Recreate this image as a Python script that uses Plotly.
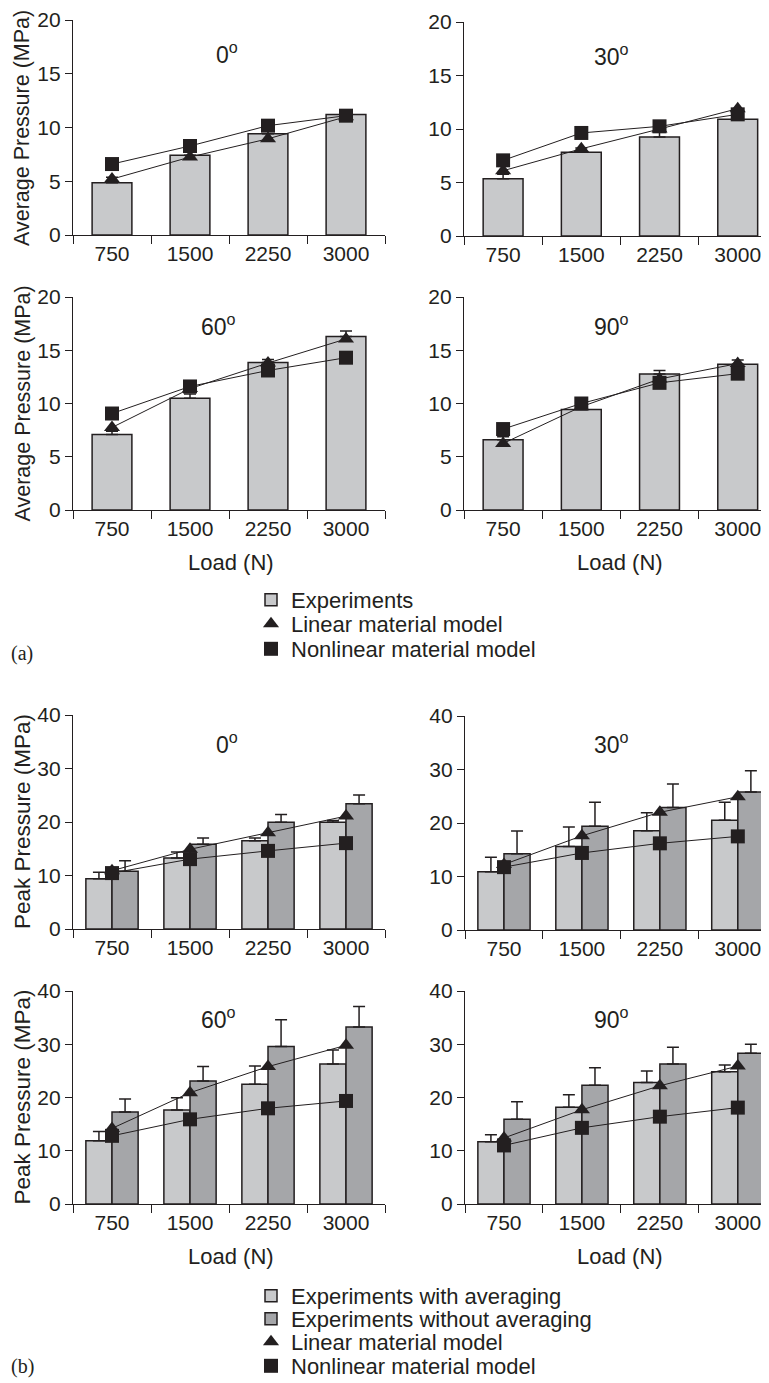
import plotly.graph_objects as go

# ---------------- data ----------------
loads = ["750", "1500", "2250", "3000"]

# (a) average pressure (MPa)
avg_exp_0 = [4.87, 7.41, 9.43, 11.22]
avg_err_0 = [0.5, 0.3, 0.3, 0.4]
avg_lin_0 = [5.2, 7.25, 8.95, 11.0]
avg_non_0 = [6.6, 8.28, 10.17, 11.1]

avg_exp_30 = [5.36, 7.82, 9.25, 10.9]
avg_err_30 = [0.4, 0.4, 0.6, 0.4]
avg_lin_30 = [6.1, 8.15, 10.0, 11.9]
avg_non_30 = [7.07, 9.63, 10.25, 11.37]

avg_exp_60 = [7.1, 10.5, 13.84, 16.3]
avg_err_60 = [0.3, 0.4, 0.3, 0.5]
avg_lin_60 = [7.75, 11.4, 13.8, 16.06]
avg_non_60 = [9.06, 11.6, 13.1, 14.3]

avg_exp_90 = [6.6, 9.44, 12.78, 13.69]
avg_err_90 = [0.27, 0.2, 0.32, 0.4]
avg_lin_90 = [6.25, 9.7, 12.3, 13.75]
avg_non_90 = [7.6, 10.0, 11.94, 12.8]

# (b) peak pressure (MPa)
pk_avg_0 = [9.4, 13.25, 16.5, 19.97]
pk_avg_err_0 = [1.2, 1.15, 0.5, 0.3]
pk_raw_0 = [10.8, 15.86, 19.97, 23.4]
pk_raw_err_0 = [1.95, 1.14, 1.43, 1.67]
pk_lin_0 = [10.9, 14.9, 18.0, 21.1]
pk_non_0 = [10.45, 13.06, 14.6, 16.05]

pk_avg_30 = [10.9, 15.6, 18.56, 20.5]
pk_avg_err_30 = [2.7, 3.65, 3.34, 3.4]
pk_raw_30 = [14.25, 19.4, 22.9, 25.8]
pk_raw_err_30 = [4.25, 4.5, 4.4, 3.95]
pk_lin_30 = [12.25, 17.6, 22.0, 24.9]
pk_non_30 = [11.75, 14.4, 16.2, 17.5]

pk_avg_60 = [11.86, 17.66, 22.5, 26.3]
pk_avg_err_60 = [1.74, 2.31, 3.4, 2.6]
pk_raw_60 = [17.3, 23.1, 29.6, 33.26]
pk_raw_err_60 = [2.4, 2.7, 5.0, 3.84]
pk_lin_60 = [14.2, 20.9, 25.8, 29.8]
pk_non_60 = [12.8, 15.9, 17.97, 19.35]

pk_avg_90 = [11.67, 18.16, 22.8, 24.84]
pk_avg_err_90 = [1.33, 2.34, 2.2, 1.26]
pk_raw_90 = [15.9, 22.3, 26.3, 28.3]
pk_raw_err_90 = [3.3, 3.3, 3.15, 1.7]
pk_lin_90 = [12.4, 17.7, 22.2, 25.9]
pk_non_90 = [11.0, 14.3, 16.4, 18.1]

angle_labels = ["0", "30", "60", "90"]

# ---------------- style ----------------
OFF = 8                      # page body margin of the browser
W, H = 769 - OFF, 1383 - OFF
FONT = "Liberation Sans, Arial, Helvetica, sans-serif"
SERIF = "Liberation Serif, Times New Roman, serif"
INK = "#231f20"
LIGHT = "#c8c9cb"
DARK = "#a5a6a9"
FS = 21


def fx(px):
    return (px - OFF) / W


def fy(py):
    return 1 - (py - OFF) / H


# panel pixel boxes (page pixels): (x0, x1, ytop, ybottom, xmax_range, ymax)
panels = [
    (73, 385, 20, 235, 3.5, 20),
    (464, 769, 22, 236, 3.4, 20),
    (73, 385, 297, 510, 3.5, 20),
    (464, 769, 297, 510, 3.4, 20),
    (73, 385, 715, 929, 3.5, 40),
    (465, 769, 716, 930, 3.4, 40),
    (73, 385, 991, 1204, 3.5, 40),
    (465, 769, 991, 1204, 3.4, 40),
]

fig = go.Figure()
layout = {}


def axn(i):
    return ("x" if i == 1 else f"x{i}", "y" if i == 1 else f"y{i}")


for i, (x0, x1, yt, yb, xr, ym) in enumerate(panels, start=1):
    xk = "xaxis" if i == 1 else f"xaxis{i}"
    yk = "yaxis" if i == 1 else f"yaxis{i}"
    _, ya = axn(i)
    layout[xk] = dict(
        domain=[fx(x0), min(1.0, fx(x1))], anchor=ya, type="category",
        categoryorder="array", categoryarray=loads, automargin=False,
        range=[-0.5, xr], showline=True, linecolor=INK, linewidth=1.2,
        ticks="outside", tickson="boundaries", ticklen=8, tickwidth=1,
        tickcolor=INK, showgrid=False, zeroline=False,
        tickfont=dict(family=FONT, size=FS, color=INK), fixedrange=True,
    )
    step = 5 if ym == 20 else 10
    layout[yk] = dict(
        domain=[fy(yb), fy(yt)], anchor=axn(i)[0], range=[0, ym],
        automargin=False,
        tickvals=list(range(0, ym + 1, step)), showline=True, linecolor=INK,
        linewidth=1.2, ticks="outside", ticklen=7, tickwidth=1, tickcolor=INK,
        showgrid=False, zeroline=False,
        tickfont=dict(family=FONT, size=FS, color=INK), fixedrange=True,
    )

avg_sets = [
    (avg_exp_0, avg_err_0, avg_lin_0, avg_non_0),
    (avg_exp_30, avg_err_30, avg_lin_30, avg_non_30),
    (avg_exp_60, avg_err_60, avg_lin_60, avg_non_60),
    (avg_exp_90, avg_err_90, avg_lin_90, avg_non_90),
]
pk_sets = [
    (pk_avg_0, pk_avg_err_0, pk_raw_0, pk_raw_err_0, pk_lin_0, pk_non_0),
    (pk_avg_30, pk_avg_err_30, pk_raw_30, pk_raw_err_30, pk_lin_30, pk_non_30),
    (pk_avg_60, pk_avg_err_60, pk_raw_60, pk_raw_err_60, pk_lin_60, pk_non_60),
    (pk_avg_90, pk_avg_err_90, pk_raw_90, pk_raw_err_90, pk_lin_90, pk_non_90),
]


def err(arr):
    return dict(type="data", array=arr, arrayminus=[0] * len(arr),
                symmetric=False, color=INK, thickness=1.5, width=6)


def model_traces(xa, ya, lin, non):
    fig.add_trace(go.Scatter(
        x=loads, y=lin, mode="lines+markers", xaxis=xa, yaxis=ya,
        line=dict(color=INK, width=1), cliponaxis=False,
        marker=dict(symbol="triangle-up", size=14, color=INK, line=dict(width=0)),
        showlegend=False, hoverinfo="skip"))
    fig.add_trace(go.Scatter(
        x=loads, y=non, mode="lines+markers", xaxis=xa, yaxis=ya,
        line=dict(color=INK, width=1), cliponaxis=False,
        marker=dict(symbol="square", size=14, color=INK, line=dict(width=0)),
        showlegend=False, hoverinfo="skip"))


for k, (exp, e, lin, non) in enumerate(avg_sets):
    xa, ya = axn(k + 1)
    fig.add_trace(go.Bar(
        x=loads, y=exp, xaxis=xa, yaxis=ya, width=0.51,
        marker=dict(color=LIGHT, line=dict(color=INK, width=1.5)),
        error_y=err(e), showlegend=False, hoverinfo="skip"))
    model_traces(xa, ya, lin, non)

for k, (a, ae, r, re_, lin, non) in enumerate(pk_sets):
    xa, ya = axn(k + 5)
    fig.add_trace(go.Bar(
        x=loads, y=a, xaxis=xa, yaxis=ya, width=0.335, offset=-0.335,
        marker=dict(color=LIGHT, line=dict(color=INK, width=1.5)),
        error_y=err(ae), showlegend=False, hoverinfo="skip"))
    fig.add_trace(go.Bar(
        x=loads, y=r, xaxis=xa, yaxis=ya, width=0.335, offset=0,
        marker=dict(color=DARK, line=dict(color=INK, width=1.5)),
        error_y=err(re_), showlegend=False, hoverinfo="skip"))
    model_traces(xa, ya, lin, non)

# ---------------- legends (one item per legend for exact spacing) -----
legend_items = [
    ("Experiments", "bar", LIGHT, 600),
    ("Linear material model", "triangle-up", INK, 624),
    ("Nonlinear material model", "square", INK, 649),
    ("Experiments with averaging", "bar", LIGHT, 1296),
    ("Experiments without averaging", "bar", DARK, 1319),
    ("Linear material model", "triangle-up", INK, 1342),
    ("Nonlinear material model", "square", INK, 1366),
]
for j, (name, kind, col, ypx) in enumerate(legend_items, start=1):
    lk = "legend" if j == 1 else f"legend{j}"
    if kind == "bar":
        fig.add_trace(go.Bar(x=[None], y=[None], name=name, legend=lk,
                             marker=dict(color=col, line=dict(color=INK, width=1.5))))
    else:
        fig.add_trace(go.Scatter(x=[None], y=[None], name=name, legend=lk,
                                 mode="markers",
                                 marker=dict(symbol=kind, size=14, color=col)))
    layout[lk] = dict(x=fx(251), y=fy(ypx), xanchor="left", yanchor="middle",
                      font=dict(family=FONT, size=22, color=INK),
                      bgcolor="rgba(0,0,0,0)", borderwidth=0)

# ---------------- annotations ----------------
ann = []


def text(t, x, y, size=FS, angle=0, family=FONT):
    ann.append(dict(text=t, x=fx(x), y=fy(y), xref="paper", yref="paper",
                    xanchor="center", yanchor="middle", showarrow=False,
                    textangle=angle, font=dict(family=family, size=size, color=INK)))


for t, x, y in [(angle_labels[0], 227, 53), (angle_labels[1], 611, 55),
                (angle_labels[2], 218, 325), (angle_labels[3], 611, 325),
                (angle_labels[0], 227, 743), (angle_labels[1], 611, 743),
                (angle_labels[2], 218, 1018), (angle_labels[3], 611, 1018)]:
    text(f"{t}<sup>o</sup>", x, y, size=23)

for y in [128, 403.5]:
    text("Average Pressure (MPa)", 22, y, size=21.5, angle=-90)
for y in [822, 1097.5]:
    text("Peak Pressure (MPa)", 22, y, size=22.5, angle=-90)

for y in [562, 1256]:
    text("Load (N)", 231, y, size=22)
    text("Load (N)", 620, y, size=22)

text("(a)", 22, 653, size=20, family=SERIF)
text("(b)", 22, 1366, size=20, family=SERIF)

fig.update_layout(
    width=W, height=H, margin=dict(l=0, r=0, t=0, b=0, autoexpand=False),
    paper_bgcolor="white", plot_bgcolor="white",
    showlegend=True, annotations=ann, barmode="overlay",
    **layout,
)

fig.write_html("out.html")
